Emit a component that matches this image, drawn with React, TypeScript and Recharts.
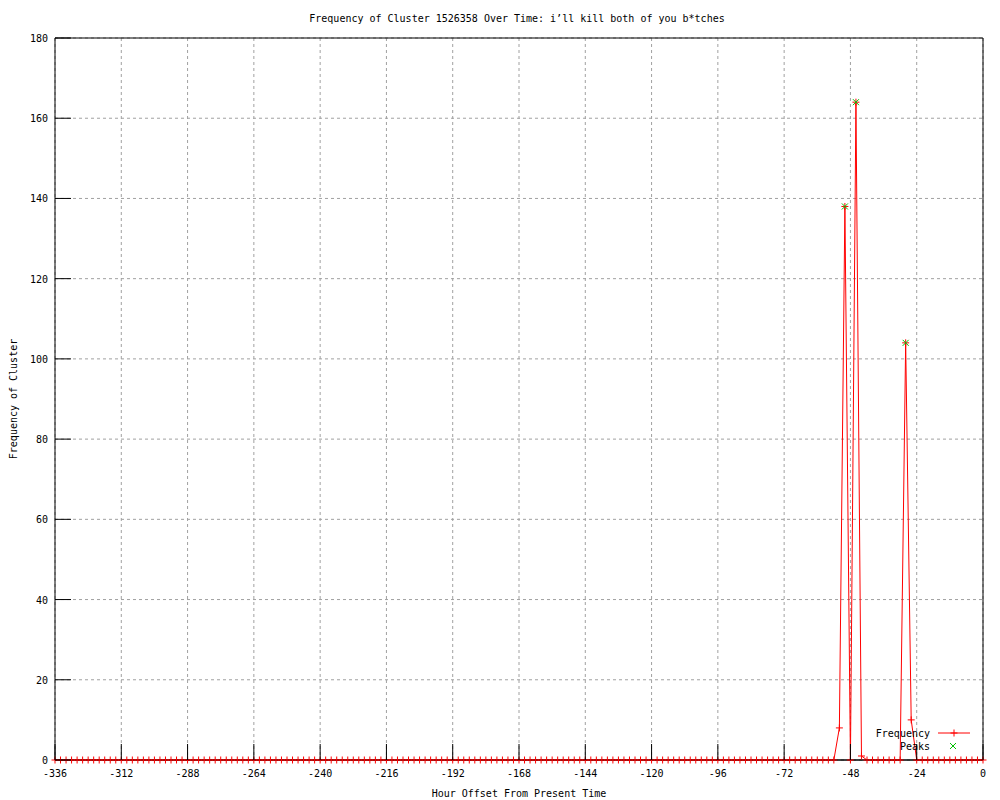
import React from "react";
import {
  ComposedChart,
  Line,
  XAxis,
  YAxis,
  CartesianGrid,
  ReferenceLine,
} from "recharts";

// hourly offsets (2h bins) for the last 14 days
const HOURS = [
  -336, -334, -332, -330, -328, -326, -324, -322, -320, -318, -316, -314,
  -312, -310, -308, -306, -304, -302, -300, -298, -296, -294, -292, -290,
  -288, -286, -284, -282, -280, -278, -276, -274, -272, -270, -268, -266,
  -264, -262, -260, -258, -256, -254, -252, -250, -248, -246, -244, -242,
  -240, -238, -236, -234, -232, -230, -228, -226, -224, -222, -220, -218,
  -216, -214, -212, -210, -208, -206, -204, -202, -200, -198, -196, -194,
  -192, -190, -188, -186, -184, -182, -180, -178, -176, -174, -172, -170,
  -168, -166, -164, -162, -160, -158, -156, -154, -152, -150, -148, -146,
  -144, -142, -140, -138, -136, -134, -132, -130, -128, -126, -124, -122,
  -120, -118, -116, -114, -112, -110, -108, -106, -104, -102, -100, -98,
  -96, -94, -92, -90, -88, -86, -84, -82, -80, -78, -76, -74,
  -72, -70, -68, -66, -64, -62, -60, -58, -56, -54, -52, -50,
  -48, -46, -44, -42, -40, -38, -36, -34, -32, -30, -28, -26,
  -24, -22, -20, -18, -16, -14, -12, -10, -8, -6, -4, -2,
  0,
];

const FREQUENCY = [
  0, 0, 0, 0, 0, 0, 0, 0, 0, 0, 0, 0,
  0, 0, 0, 0, 0, 0, 0, 0, 0, 0, 0, 0,
  0, 0, 0, 0, 0, 0, 0, 0, 0, 0, 0, 0,
  0, 0, 0, 0, 0, 0, 0, 0, 0, 0, 0, 0,
  0, 0, 0, 0, 0, 0, 0, 0, 0, 0, 0, 0,
  0, 0, 0, 0, 0, 0, 0, 0, 0, 0, 0, 0,
  0, 0, 0, 0, 0, 0, 0, 0, 0, 0, 0, 0,
  0, 0, 0, 0, 0, 0, 0, 0, 0, 0, 0, 0,
  0, 0, 0, 0, 0, 0, 0, 0, 0, 0, 0, 0,
  0, 0, 0, 0, 0, 0, 0, 0, 0, 0, 0, 0,
  0, 0, 0, 0, 0, 0, 0, 0, 0, 0, 0, 0,
  0, 0, 0, 0, 0, 0, 0, 0, 0, 0, 8, 138,
  0, 164, 1, 0, 0, 0, 0, 0, 0, 0, 104, 10,
  0, 0, 0, 0, 0, 0, 0, 0, 0, 0, 0, 0,
  0,
];

const PEAK_HOURS = [-50, -46, -28];
const PEAK_VALUES = [138, 164, 104];

const X_TICKS = [-336, -312, -288, -264, -240, -216, -192, -168, -144, -120, -96, -72, -48, -24, 0];
const Y_TICKS = [0, 20, 40, 60, 80, 100, 120, 140, 160, 180];

const TITLE = "Frequency of Cluster 1526358 Over Time: i\u2019ll kill both of you b*tches";

const FONT = "'DejaVu Sans Mono', monospace";
const RED = "#ff0000";
const GREEN = "#00c000";
const TICK_LEN = 16;

const freqData = HOURS.map((hour, i) => ({ hour, value: FREQUENCY[i] }));
const peakData = PEAK_HOURS.map((hour, i) => ({ hour, value: PEAK_VALUES[i] }));

function Plus({ cx, cy, color }: { cx: number; cy: number; color: string }) {
  return (
    <g>
      <line x1={cx - 3.5} y1={cy} x2={cx + 3.5} y2={cy} stroke={color} strokeWidth={1} />
      <line x1={cx} y1={cy - 3.5} x2={cx} y2={cy + 3.5} stroke={color} strokeWidth={1} />
    </g>
  );
}

function Cross({ cx, cy, color }: { cx: number; cy: number; color: string }) {
  return (
    <g>
      <line x1={cx - 3} y1={cy - 3} x2={cx + 3} y2={cy + 3} stroke={color} strokeWidth={1} />
      <line x1={cx - 3} y1={cy + 3} x2={cx + 3} y2={cy - 3} stroke={color} strokeWidth={1} />
    </g>
  );
}

const BottomTick = ({ x, y, payload }: any) => (
  <g>
    <line x1={x} y1={y} x2={x} y2={y - TICK_LEN} stroke="#000" />
    <text x={x} y={y + 17} textAnchor="middle" fontSize={10} fontFamily={FONT} fill="#000">
      {String(payload.value)}
    </text>
  </g>
);

const TopTick = ({ x, y }: any) => <line x1={x} y1={y} x2={x} y2={y + TICK_LEN} stroke="#000" />;

const LeftTick = ({ x, y, payload }: any) => (
  <g>
    <line x1={x} y1={y} x2={x + TICK_LEN} y2={y} stroke="#000" />
    <text x={x - 7} y={y + 4} textAnchor="end" fontSize={10} fontFamily={FONT} fill="#000">
      {String(payload.value)}
    </text>
  </g>
);

const RightTick = ({ x, y }: any) => <line x1={x} y1={y} x2={x - TICK_LEN} y2={y} stroke="#000" />;

export default function App() {
  return (
    <div
      style={{
        position: "absolute",
        left: 0,
        top: 0,
        width: 1000,
        height: 800,
        background: "#fff",
        fontFamily: FONT,
      }}
    >
      <ComposedChart width={1000} height={800} margin={{ top: 0, right: 0, bottom: 0, left: 0 }}>
        <CartesianGrid stroke="#a0a0a0" strokeDasharray="3 3" />
        <XAxis
          dataKey="hour"
          type="number"
          domain={[-336, 0]}
          ticks={X_TICKS}
          interval={0}
          height={40}
          tickSize={0}
          tickMargin={0}
          tickLine={false}
          axisLine={{ stroke: "#000" }}
          tick={<BottomTick />}
          label={{
            content: ({ viewBox }: any) => (
              <text
                x={viewBox.x + viewBox.width / 2}
                y={797}
                textAnchor="middle"
                fontSize={10}
                fontFamily={FONT}
                fill="#000"
              >
                Hour Offset From Present Time
              </text>
            ),
          }}
        />
        <XAxis
          xAxisId="top"
          orientation="top"
          dataKey="hour"
          type="number"
          domain={[-336, 0]}
          ticks={X_TICKS}
          interval={0}
          height={38}
          tickSize={0}
          tickMargin={0}
          tickLine={false}
          axisLine={{ stroke: "#000" }}
          tick={<TopTick />}
        />
        <YAxis
          type="number"
          domain={[0, 180]}
          ticks={Y_TICKS}
          interval={0}
          width={55}
          tickSize={0}
          tickMargin={0}
          tickLine={false}
          axisLine={{ stroke: "#000" }}
          tick={<LeftTick />}
          label={{
            content: ({ viewBox }: any) => (
              <text
                x={13}
                y={viewBox.y + viewBox.height / 2}
                transform={`rotate(-90, 13, ${viewBox.y + viewBox.height / 2})`}
                textAnchor="middle"
                dominantBaseline="central"
                fontSize={10}
                fontFamily={FONT}
                fill="#000"
              >
                Frequency of Cluster
              </text>
            ),
          }}
        />
        <YAxis
          yAxisId="right"
          orientation="right"
          type="number"
          domain={[0, 180]}
          ticks={Y_TICKS}
          interval={0}
          width={17}
          tickSize={0}
          tickMargin={0}
          tickLine={false}
          axisLine={{ stroke: "#000" }}
          tick={<RightTick />}
        />
        <Line
          data={freqData}
          dataKey="value"
          type="linear"
          stroke={RED}
          strokeWidth={1}
          isAnimationActive={false}
          activeDot={false}
          dot={(p: any) => <Plus key={`f-${p.index}`} cx={p.cx} cy={p.cy} color={RED} />}
        />
        <Line
          data={peakData}
          dataKey="value"
          type="linear"
          stroke="none"
          isAnimationActive={false}
          activeDot={false}
          dot={(p: any) => <Cross key={`p-${p.index}`} cx={p.cx} cy={p.cy} color={GREEN} />}
        />
        <ReferenceLine y={0} stroke="#000" />
      </ComposedChart>
      <svg
        width={1000}
        height={800}
        style={{ position: "absolute", left: 0, top: 0, pointerEvents: "none" }}
      >
        <text x={517} y={22} textAnchor="middle" fontSize={10} fontFamily={FONT} fill="#000">
          {TITLE}
        </text>
        <text x={930} y={737} textAnchor="end" fontSize={10} fontFamily={FONT} fill="#000">
          Frequency
        </text>
        <line x1={938} y1={733} x2={970} y2={733} stroke={RED} />
        <Plus cx={954} cy={733} color={RED} />
        <text x={930} y={750} textAnchor="end" fontSize={10} fontFamily={FONT} fill="#000">
          Peaks
        </text>
        <Cross cx={953} cy={746} color={GREEN} />
      </svg>
    </div>
  );
}
